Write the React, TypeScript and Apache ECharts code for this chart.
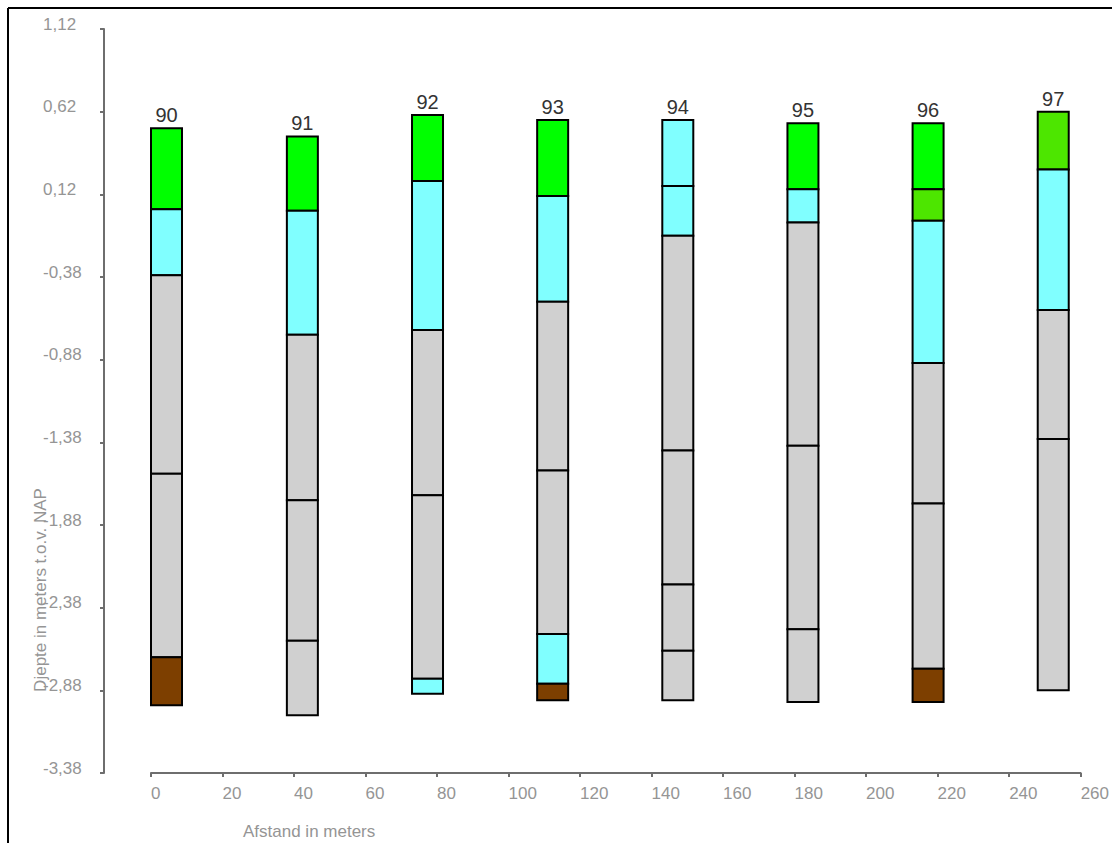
import React, { useEffect, useRef } from "react";
import * as echarts from "echarts";

// Borehole names and their distance along the profile (m)
const boreNames = ["90", "91", "92", "93", "94", "95", "96", "97"];
const boreDistances = [0, 38, 73, 108, 143, 178, 213, 248];

// Layer boundaries per borehole (m t.o.v. NAP), top to bottom
const layerBounds = [
  [0.52, 0.03, -0.37, -1.57, -2.68, -2.97],
  [0.47, 0.02, -0.73, -1.73, -2.58, -3.03],
  [0.6, 0.2, -0.7, -1.7, -2.81, -2.9],
  [0.57, 0.11, -0.53, -1.55, -2.54, -2.84, -2.94],
  [0.57, 0.17, -0.13, -1.43, -2.24, -2.64, -2.94],
  [0.55, 0.15, -0.05, -1.4, -2.51, -2.95],
  [0.55, 0.15, -0.04, -0.9, -1.75, -2.75, -2.95],
  [0.62, 0.27, -0.58, -1.36, -2.88],
];

// Soil type per layer, top to bottom
const layerSoils = [
  ["green", "cyan", "grey", "grey", "brown"],
  ["green", "cyan", "grey", "grey", "grey"],
  ["green", "cyan", "grey", "grey", "cyan"],
  ["green", "cyan", "grey", "grey", "cyan", "brown"],
  ["cyan", "cyan", "grey", "grey", "grey", "grey"],
  ["green", "cyan", "grey", "grey", "grey"],
  ["green", "lime", "cyan", "grey", "grey", "brown"],
  ["lime", "cyan", "grey", "grey"],
];

// Axis settings
const yMin = -3.38;
const yMax = 1.12;
const yStep = 0.5;
const xMin = 0;
const xMax = 260;
const xStep = 20;

const soilColors: Record<string, string> = {
  green: "#00ff00",
  lime: "#4de600",
  cyan: "#80ffff",
  grey: "#d0d0d0",
  brown: "#7d3f00",
};

const BAR_PX = 31;

export default function App() {
  const ref = useRef<HTMLDivElement>(null);

  useEffect(() => {
    if (!ref.current) return;
    const chart = echarts.init(ref.current, undefined, { renderer: "svg" });

    const layerData: any[] = [];
    boreDistances.forEach((d, i) => {
      const b = layerBounds[i];
      layerSoils[i].forEach((s, j) => {
        layerData.push({ value: [d, b[j], b[j + 1]], soil: s });
      });
    });
    const labelData = boreDistances.map((d, i) => ({
      value: [d, layerBounds[i][0]],
      name: boreNames[i],
    }));

    const axisGrey = "#6e6e6e";
    const textGrey = "#959595";
    const font = "Liberation Sans, Arial, sans-serif";

    chart.setOption({
      animation: false,
      backgroundColor: "#ffffff",
      grid: { left: 151, right: 31, top: 29, bottom: 70, containLabel: false },
      xAxis: {
        type: "value",
        min: xMin,
        max: xMax,
        interval: xStep,
        axisLine: { show: true, onZero: false, lineStyle: { color: axisGrey, width: 2 } },
        axisTick: { show: true, length: 4, lineStyle: { color: axisGrey, width: 2 } },
        axisLabel: {
          color: textGrey,
          fontSize: 17,
          fontFamily: font,
          align: "left",
          margin: 12,
        },
        splitLine: { show: false },
      },
      yAxis: {
        type: "value",
        min: yMin,
        max: yMax,
        interval: yStep,
        offset: 47,
        axisLine: { show: true, onZero: false, lineStyle: { color: axisGrey, width: 2 } },
        axisTick: { show: true, length: 4, lineStyle: { color: axisGrey, width: 2 } },
        axisLabel: {
          color: textGrey,
          fontSize: 17,
          fontFamily: font,
          align: "left",
          verticalAlign: "bottom",
          lineHeight: 10,
          margin: 61,
          formatter: (v: number) => v.toFixed(2).replace(".", ","),
        },
        splitLine: { show: false },
      },
      graphic: [
        {
          type: "line",
          shape: { x1: 8, y1: 8, x2: 1112, y2: 8 },
          style: { stroke: "#000", lineWidth: 2 },
        },
        {
          type: "line",
          shape: { x1: 8, y1: 8, x2: 8, y2: 843 },
          style: { stroke: "#000", lineWidth: 2 },
        },
        {
          type: "text",
          x: 243,
          y: 831,
          style: {
            text: "Afstand in meters",
            fill: textGrey,
            fontSize: 17,
            fontFamily: font,
            textAlign: "left",
            textVerticalAlign: "middle",
          },
        },
        {
          type: "text",
          x: 40,
          y: 590,
          rotation: Math.PI / 2,
          style: {
            text: "Djepte in meters t.o.v. NAP",
            fill: textGrey,
            fontSize: 17,
            fontFamily: font,
            textAlign: "center",
            textVerticalAlign: "middle",
          },
        },
      ],
      series: [
        {
          type: "custom",
          data: layerData,
          renderItem: (params: any, api: any) => {
            const d = api.value(0);
            const top = api.coord([d, api.value(1)]);
            const bot = api.coord([d, api.value(2)]);
            const item = layerData[params.dataIndex];
            return {
              type: "rect",
              shape: { x: top[0], y: top[1], width: BAR_PX, height: bot[1] - top[1] },
              style: { fill: soilColors[item.soil], stroke: "#000", lineWidth: 2 },
            };
          },
        },
        {
          type: "custom",
          data: labelData,
          renderItem: (params: any, api: any) => {
            const p = api.coord([api.value(0), api.value(1)]);
            return {
              type: "text",
              x: p[0] + BAR_PX / 2,
              y: p[1] - 13,
              style: {
                text: labelData[params.dataIndex].name,
                fill: "#333333",
                fontSize: 20,
                fontFamily: font,
                textAlign: "center",
                textVerticalAlign: "middle",
              },
            };
          },
        },
      ],
    });

    return () => chart.dispose();
  }, []);

  return (
    <div
      ref={ref}
      style={{ position: "fixed", left: 0, top: 0, width: 1112, height: 843 }}
    />
  );
}
